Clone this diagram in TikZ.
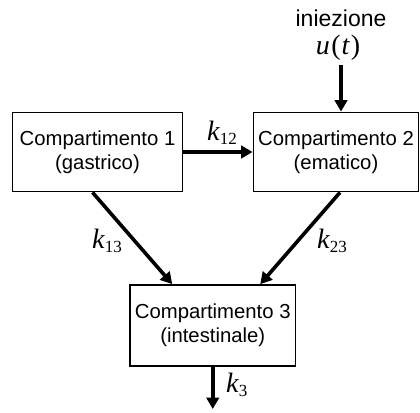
\documentclass[tikz,border=0pt]{standalone}
\usepackage{fontspec}
\setmainfont{Liberation Sans}
\newfontfamily\serif{Liberation Serif}
\usetikzlibrary{arrows.meta,calc}
\newcommand{\kvar}[1]{{\serif\fontsize{28}{28}\selectfont\itshape k}\kern0.3pt{\serif\fontsize{17}{17}\selectfont\raisebox{-4.5pt}{#1}}}
\begin{document}
\begin{tikzpicture}[x=1pt,y=-1pt,
  comp/.style={draw,line width=1.8pt,minimum height=79pt,inner sep=0pt,align=center,font=\fontsize{20.3}{24}\selectfont},
  flow/.style={line width=3.6pt,-{Triangle[length=11.5pt,width=12.5pt]}},
  lab/.style={inner sep=0pt,anchor=base west}]
\useasboundingbox (0,0) rectangle (420,412);
\node[comp,minimum width=170pt] (c1) at (97.5,152) {Compartimento 1\\(gastrico)};
\node[comp,minimum width=165pt] (c2) at (336,152) {Compartimento 2\\(ematico)};
\node[comp,minimum width=165.5pt,minimum height=81pt] (c3) at (212.75,325.5) {Compartimento 3\\(intestinale)};
\coordinate (inj) at (341,65);
\coordinate (out) at (212.5,409);
\draw[flow] (inj) -- (inj |- c2.north);
\draw[flow] (c1.east) -- (c2.west);
\draw[flow] ($(c1.south)+(-5,0)$) -- ($(c3.north)+(-40.5,0)$);
\draw[flow] ($(c2.south)+(4,0)$) -- ($(c3.north)+(47.5,0)$);
\draw[flow] (c3.south) -- (c3.south |- out);
\node[anchor=base,inner sep=0pt,font=\fontsize{23}{23}\selectfont] (injt) at (341,27) {iniezione};
\node[anchor=base,inner sep=0pt] (ut) at (338,55) {\serif\fontsize{28}{28}\selectfont\itshape u\kern1.5pt\upshape(\kern1pt\itshape t\kern1.5pt\upshape)};
\node[lab] (k12) at (207,140) {\kvar{12}};
\node[lab] (k13) at (92,248) {\kvar{13}};
\node[lab] (k23) at (317,248) {\kvar{23}};
\node[lab] (k3) at (226,392) {\kvar{3}};
\end{tikzpicture}
\end{document}
